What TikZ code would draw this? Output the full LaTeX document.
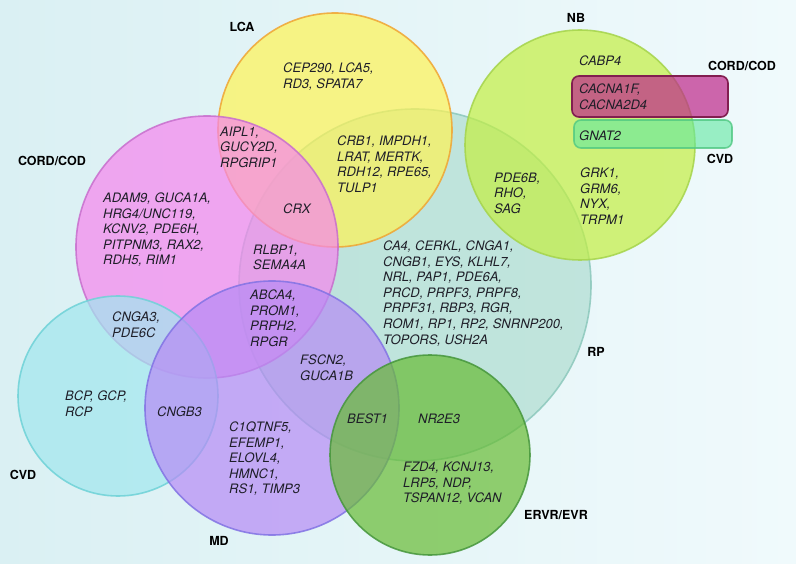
\documentclass[tikz,border=0pt]{standalone}
\usepackage{fontspec}
\newfontfamily\hv{TeX Gyre Heros}
\definecolor{bgA}{RGB}{218,240,243}
\definecolor{bgB}{RGB}{240,250,252}
\definecolor{lcaC}{RGB}{255,243,85}
\definecolor{lcaB}{RGB}{240,165,50}
\definecolor{cordC}{RGB}{246,133,238}
\definecolor{cordB}{RGB}{200,110,205}
\definecolor{rpC}{RGB}{175,221,209}
\definecolor{rpB}{RGB}{140,200,188}
\definecolor{nbC}{RGB}{196,239,66}
\definecolor{nbB}{RGB}{165,212,75}
\definecolor{cvdC}{RGB}{161,231,238}
\definecolor{cvdB}{RGB}{110,210,215}
\definecolor{mdC}{RGB}{182,139,245}
\definecolor{mdB}{RGB}{130,115,228}
\definecolor{evC}{RGB}{104,188,52}
\definecolor{evB}{RGB}{70,150,60}
\definecolor{boxA}{RGB}{190,39,138}
\definecolor{boxAB}{RGB}{130,30,80}
\definecolor{boxB}{RGB}{96,232,160}
\definecolor{boxBB}{RGB}{80,200,130}
\definecolor{txt}{RGB}{30,30,40}
\begin{document}
\begin{tikzpicture}[x=1pt,y=-1pt,
  setc/.style={fill opacity=0.7, draw opacity=0.85, line width=1.6pt},
  gene/.style={anchor=north west, inner sep=0pt, align=left, text=txt,
    font=\hv\itshape\fontsize{13}{15.6}\selectfont},
  lab/.style={inner sep=0pt, text=black, font=\hv\bfseries\fontsize{12.5}{14}\selectfont}]
\useasboundingbox (0,0) rectangle (796,564);
\shade[left color=bgA, right color=bgB] (0,0) rectangle (796,564);
% sets
\filldraw[setc, fill=rpC, draw=rpB] (415,285) circle (176);
\filldraw[setc, fill=lcaC, draw=lcaB] (335,130) circle (117);
\filldraw[setc, fill=cordC, draw=cordB] (207,247) circle (131);
\filldraw[setc, fill=cvdC, draw=cvdB] (118,396) circle (100);
\filldraw[setc, fill=nbC, draw=nbB] (580,145) circle (115);
\filldraw[setc, fill=mdC, draw=mdB] (272,408) circle (127);
\filldraw[setc, fill=evC, draw=evB] (430,455) circle (100);
% boxes
\draw[rounded corners=7pt, fill=boxA, fill opacity=0.7, draw=boxAB, line width=1.6pt]
  (572,76) rectangle (728,117);
\draw[rounded corners=7pt, fill=boxB, fill opacity=0.6, draw=boxBB, draw opacity=0.8, line width=1.6pt]
  (574,120) rectangle (732,148);
% labels
\node[lab] (lLCA) at (242,27) {LCA};
\node[lab] (lNB) at (576,18) {NB};
\node[lab] (lCORD) at (52,161) {CORD/COD};
\node[lab] (lCORDb) at (742,66) {CORD/COD};
\node[lab] (lCVDb) at (720,159) {CVD};
\node[lab] (lRP) at (596,352) {RP};
\node[lab] (lEV) at (556,515) {ERVR/EVR};
\node[lab] (lCVD) at (23,475) {CVD};
\node[lab] (lMD) at (219,541) {MD};
% genes
\node[gene] (gLCA) at (283,62.5) {CEP290, LCA5,\\RD3, SPATA7};
\node[gene] (gAIPL) at (220,126.5) {AIPL1,\\GUCY2D,\\RPGRIP1};
\node[gene] (gCRX) at (283,203.5) {CRX};
\node[gene] (gADAM) at (103,192.5) {ADAM9, GUCA1A,\\HRG4/UNC119,\\KCNV2, PDE6H,\\PITPNM3, RAX2,\\RDH5, RIM1};
\node[gene] (gRLBP) at (253,244.5) {RLBP1,\\SEMA4A};
\node[gene] (gCRB) at (337,135.5) {CRB1, IMPDH1,\\LRAT, MERTK,\\RDH12, RPE65,\\TULP1};
\node[gene] (gPDE) at (494,172.5) {PDE6B,\\RHO,\\SAG};
\node[gene] (gCABP) at (579,55.5) {CABP4};
\node[gene] (gCAC) at (579,83.5) {CACNA1F,\\CACNA2D4};
\node[gene] (gGNAT) at (579,130.5) {GNAT2};
\node[gene] (gGRK) at (580,167.5) {GRK1,\\GRM6,\\NYX,\\TRPM1};
\node[gene] (gCA4) at (383,240.5) {CA4, CERKL, CNGA1,\\CNGB1, EYS, KLHL7,\\NRL, PAP1, PDE6A,\\PRCD, PRPF3, PRPF8,\\PRPF31, RBP3, RGR,\\ROM1, RP1, RP2, SNRNP200,\\TOPORS, USH2A};
\node[gene] (gABCA) at (250,289.5) {ABCA4,\\PROM1,\\PRPH2,\\RPGR};
\node[gene] (gFSCN) at (300,354.5) {FSCN2,\\GUCA1B};
\node[gene] (gCNGA) at (112,311.5) {CNGA3,\\PDE6C};
\node[gene] (gBCP) at (65,390.5) {BCP, GCP,\\RCP};
\node[gene] (gCNGB) at (157,406.5) {CNGB3};
\node[gene] (gC1Q) at (229,421.5) {C1QTNF5,\\EFEMP1,\\ELOVL4,\\HMNC1,\\RS1, TIMP3};
\node[gene] (gBEST) at (347,413.5) {BEST1};
\node[gene] (gNR) at (418,413.5) {NR2E3};
\node[gene] (gFZD) at (403,461.5) {FZD4, KCNJ13,\\LRP5, NDP,\\TSPAN12, VCAN};
\end{tikzpicture}
\end{document}
